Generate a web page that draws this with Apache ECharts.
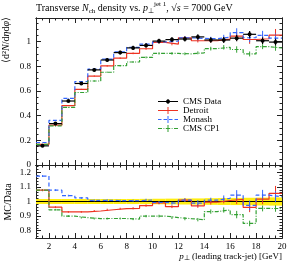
<!DOCTYPE html>
<html><head><meta charset="utf-8">
<script src="https://cdn.jsdelivr.net/npm/echarts@6/dist/echarts.min.js"></script>
<style>html,body{margin:0;padding:0;background:#fff}#c{width:291px;height:263px}</style>
</head><body><div id="c"></div><script>
// ---- data ----
const binEdges = [1,2,3,4,5,6,7,8,9,10,11,12,13,14,15,16,17,18,19,20];
const cmsData = [0.155,0.335,0.518,0.66,0.77,0.85,0.91,0.948,0.968,1.003,1.015,1.02,1.037,1.012,1.012,1.027,1.058,1.006,0.995];
const cmsErr  = [0.0026,0.0057,0.0088,0.0112,0.0131,0.0145,0.0155,0.0165,0.0175,0.019,0.02,0.021,0.022,0.023,0.024,0.025,0.027,0.027,0.028];
const detroit = [0.167,0.322,0.481,0.613,0.720,0.802,0.865,0.904,0.941,0.993,0.979,1.030,1.006,1.007,1.019,1.043,1.016,1.022,1.051];
const detroitErr = [0.001,0.002,0.003,0.004,0.005,0.006,0.006,0.007,0.008,0.009,0.01,0.012,0.014,0.016,0.02,0.034,0.035,0.035,0.05];
const monash = [0.182,0.361,0.539,0.676,0.776,0.857,0.915,0.953,0.978,0.996,1.003,1.030,1.025,1.022,1.034,1.072,1.030,1.050,1.027];
const monashErr = [0.001,0.002,0.003,0.004,0.005,0.006,0.006,0.007,0.008,0.009,0.01,0.012,0.022,0.016,0.02,0.035,0.035,0.036,0.038];
const cp1 = [0.167,0.316,0.466,0.587,0.680,0.751,0.804,0.834,0.871,0.903,0.903,0.900,0.908,0.942,0.953,0.935,0.899,0.958,0.947];
const cp1Err = [0.001,0.002,0.003,0.004,0.005,0.005,0.006,0.007,0.008,0.009,0.01,0.011,0.012,0.015,0.018,0.026,0.02,0.02,0.022];
const xTickLabels = [2,4,6,8,10,12,14,16,18,20];
const yMainTicks = [0,0.2,0.4,0.6,0.8,1];
const yRatioTicks = [0.8,0.9,1,1.1,1.2];
const seriesNames = ['CMS Data','Detroit','Monash','CMS CP1'];

// ---- styling ----
const FONT = 'Liberation Serif';
const RED = '#ee3322', BLUE = '#3366ff', GREEN = '#33a033', YELLOW = '#ffee11', FRAME = '#222';

function minorList(start, end, step, skipEvery){
  const out=[];
  const n=Math.round((end-start)/step);
  for(let i=1;i<n;i++){ if(i%skipEvery!==0) out.push(+(start+i*step).toFixed(4)); }
  return out;
}
const xMinor = minorList(0,20,0.5,4).filter(v=>v>1);
const yMainMinor = minorList(0,1.2,0.05,4).filter(v=>v<1.19);
const yRatioMinor = minorList(0.7,1.3,0.02,5).filter(v=>v>0.75&&v<1.25);

function histLine(vals){ return binEdges.map((e,i)=>[e, vals[Math.min(i, vals.length-1)]]); }
function errItems(vals, errs){ return vals.map((v,i)=>[(binEdges[i]+binEdges[i+1])/2, v, errs[i]]); }
const ratioOf = vals => vals.map((v,i)=>v/cmsData[i]);
const ratioErr = errs => errs.map((e,i)=>e/cmsData[i]);

function renderErr(color){
  return function(params, api){
    const x=api.value(0), y=api.value(1), e=api.value(2);
    const a=api.coord([x,y-e]), b=api.coord([x,y+e]);
    return {type:'line', shape:{x1:a[0],y1:a[1],x2:b[0],y2:b[1]}, style:{stroke:color, lineWidth:1}};
  };
}
function renderData(params, api){
  const lo=api.value(0), hi=api.value(1), y=api.value(2), e=api.value(3), m=(lo+hi)/2;
  const pL=api.coord([lo,y]), pR=api.coord([hi,y]), t=api.coord([m,y+e]), b=api.coord([m,y-e]), c=api.coord([m,y]);
  return {type:'group', children:[
    {type:'line', shape:{x1:pL[0],y1:pL[1],x2:pR[0],y2:pR[1]}, style:{stroke:'#000', lineWidth:1.2}},
    {type:'line', shape:{x1:c[0],y1:t[1],x2:c[0],y2:b[1]}, style:{stroke:'#000', lineWidth:1.2}},
    {type:'circle', shape:{cx:c[0],cy:c[1],r:2}, style:{fill:'#000'}}
  ]};
}
function renderBand(params, api){
  const lo=api.value(0), hi=api.value(1), d=api.value(2);
  const a=api.coord([lo,1+d]), b=api.coord([hi,1-d]);
  return {type:'rect', shape:{x:a[0], y:a[1], width:b[0]-a[0], height:b[1]-a[1]}, style:{fill:YELLOW}};
}

function xAx(grid, pos, ticks, len, labels){
  return {type:'value', gridIndex:grid, position:pos, min:1, max:20,
    axisLine:{show:true, onZero:false, lineStyle:{color:FRAME, width:1}},
    axisTick:{show:true, inside:true, length:len, customValues:ticks, lineStyle:{color:FRAME, width:1}},
    axisLabel:{show:!!labels, customValues:labels||undefined, margin:4, fontFamily:FONT, fontSize:9, color:'#000'},
    splitLine:{show:false}};
}
function yAx(grid, pos, min, max, ticks, len, labels){
  return {type:'value', gridIndex:grid, position:pos, min:min, max:max,
    axisLine:{show:true, onZero:false, lineStyle:{color:FRAME, width:1}},
    axisTick:{show:true, inside:true, length:len, customValues:ticks, lineStyle:{color:FRAME, width:1}},
    axisLabel:{show:!!labels, customValues:labels||undefined, margin:5, fontFamily:FONT, fontSize:9, color:'#000'},
    splitLine:{show:false}};
}

const YMAX = 1.19, RMIN = 0.75, RMAX = 1.25;
const xAxes = [
  xAx(0,'bottom',xTickLabels,5,null), xAx(0,'top',xTickLabels,5,null),
  xAx(0,'bottom',xMinor,2.5,null), xAx(0,'top',xMinor,2.5,null),
  xAx(1,'bottom',xTickLabels,5,xTickLabels), xAx(1,'top',xTickLabels,5,null),
  xAx(1,'bottom',xMinor,2.5,null), xAx(1,'top',xMinor,2.5,null)
];
const yAxes = [
  yAx(0,'left',0,YMAX,yMainTicks,5,yMainTicks), yAx(0,'right',0,YMAX,yMainTicks,5,null),
  yAx(0,'left',0,YMAX,yMainMinor,2.5,null), yAx(0,'right',0,YMAX,yMainMinor,2.5,null),
  yAx(1,'left',RMIN,RMAX,yRatioTicks,5,yRatioTicks), yAx(1,'right',RMIN,RMAX,yRatioTicks,5,null),
  yAx(1,'left',RMIN,RMAX,yRatioMinor,2.5,null), yAx(1,'right',RMIN,RMAX,yRatioMinor,2.5,null)
];

const mcs = [
  {name:'Detroit', vals:detroit, errs:detroitErr, color:RED, type:'solid'},
  {name:'Monash', vals:monash, errs:monashErr, color:BLUE, type:[4,2.5]},
  {name:'CMS CP1', vals:cp1, errs:cp1Err, color:GREEN, type:[4,1.5,1,1.5]}
];

const series = [];
// main-plot data first so the legend takes its colour
series.push({type:'custom', name:'CMS Data', xAxisIndex:0, yAxisIndex:0, z:5, renderItem:renderData,
  color:'#000', itemStyle:{color:'#000'}, encode:{x:[0,1], y:2},
  data: cmsData.map((v,i)=>[binEdges[i], binEdges[i+1], v, cmsErr[i]])});
series.push({type:'custom', name:'CMS Data', xAxisIndex:4, yAxisIndex:4, z:1, clip:true, silent:true,
  color:'#000', itemStyle:{color:'#000'}, renderItem:renderBand, encode:{x:[0,1], y:2},
  data: cmsData.map((v,i)=>[binEdges[i], binEdges[i+1], cmsErr[i]/v])});
series.push({type:'line', name:'CMS Data', xAxisIndex:4, yAxisIndex:4, step:'end', symbol:'none', z:2,
  color:'#000', lineStyle:{color:'#000', width:1.2}, data:histLine(ratioOf(cmsData))});
mcs.forEach(m=>{
  series.push({type:'line', name:m.name, xAxisIndex:0, yAxisIndex:0, step:'end', symbol:'none', z:3,
    color:m.color, itemStyle:{color:m.color}, lineStyle:{color:m.color, width:1.2, type:m.type}, data:histLine(m.vals)});
  series.push({type:'custom', name:m.name, xAxisIndex:0, yAxisIndex:0, z:3, renderItem:renderErr(m.color),
    color:m.color, itemStyle:{color:m.color}, encode:{x:0, y:1}, data:errItems(m.vals, m.errs)});
  series.push({type:'line', name:m.name, xAxisIndex:4, yAxisIndex:4, step:'end', symbol:'none', z:3,
    color:m.color, lineStyle:{color:m.color, width:1.2, type:m.type}, data:histLine(ratioOf(m.vals))});
  series.push({type:'custom', name:m.name, xAxisIndex:4, yAxisIndex:4, z:3, clip:true, renderItem:renderErr(m.color),
    color:m.color, itemStyle:{color:m.color}, encode:{x:0, y:1}, data:errItems(ratioOf(m.vals), ratioErr(m.errs))});
});

const ICON_DATA = 'path://M0,3H20V4H0Z M9.5,1H10.5V6H9.5Z M12,3.5A2,2,0,1,1,8,3.5A2,2,0,1,1,12,3.5Z M0,0M20,7';
const ICON_SOLID = 'path://M0,3H20V4H0Z M9.5,0H10.5V7H9.5Z';
const ICON_DASH = 'path://M0,3H3.5V4H0Z M5.5,3H9V4H5.5Z M9.5,0H10.5V7H9.5Z M11,3H14.5V4H11Z M16.5,3H20V4H16.5Z';
const ICON_DASHDOT = 'path://M0,3H4V4H0Z M5.5,3H6.3V4H5.5Z M7.8,3H12.2V4H7.8Z M9.5,0H10.5V7H9.5Z M13.7,3H14.5V4H13.7Z M16,3H20V4H16Z';

const option = {
  animation:false,
  backgroundColor:'#fff',
  title:{text:'Transverse {i|N}{sub|ch} density vs. {i|p}{sub|⊥}{sup|jet 1}, √{i|s} = 7000 GeV', left:36, top:1, padding:0,
    textStyle:{fontFamily:FONT, fontSize:10, fontWeight:'normal', color:'#000', lineHeight:14,
      rich:{
        i:{fontFamily:FONT, fontSize:10, fontStyle:'italic', color:'#000', lineHeight:14},
        sub:{fontFamily:FONT, fontSize:7, color:'#000', lineHeight:7, verticalAlign:'bottom'},
        sup:{fontFamily:FONT, fontSize:7, color:'#000', lineHeight:7, verticalAlign:'top'}
      }}},
  legend:{left:158, top:97, orient:'vertical', itemWidth:20, itemHeight:7, itemGap:0, selectedMode:false,
    padding:0, itemStyle:{borderWidth:0},
    textStyle:{fontFamily:FONT, fontSize:9, color:'#000'},
    data:[{name:seriesNames[0], icon:ICON_DATA, itemStyle:{color:'#000'}},{name:seriesNames[1], icon:ICON_SOLID},
          {name:seriesNames[2], icon:ICON_DASH},{name:seriesNames[3], icon:ICON_DASHDOT}]},
  grid:[{left:36, top:18, width:246, height:147}, {left:36, top:165, width:246, height:73}],
  xAxis:xAxes, yAxis:yAxes, series:series,
  graphic:[
    {type:'text', x:6, y:17, rotation:Math.PI/2, silent:true,
      style:{text:'⟨d²{i|N}/d{i|η}d{i|φ}⟩', fontFamily:FONT, fontSize:10, fill:'#000', align:'right', verticalAlign:'middle',
        rich:{i:{fontFamily:FONT, fontSize:10, fontStyle:'italic', fill:'#000'}}}},
    {type:'text', x:8, y:202, rotation:Math.PI/2, silent:true,
      style:{text:'MC/Data', fontFamily:FONT, fontSize:10, fill:'#000', align:'center', verticalAlign:'middle'}},
    {type:'text', x:282, y:257, silent:true,
      style:{text:'{i|p}{s|⊥} (leading track-jet) [GeV]', fontFamily:FONT, fontSize:9, fill:'#000', align:'right', verticalAlign:'middle',
        rich:{i:{fontFamily:FONT, fontSize:9, fontStyle:'italic', fill:'#000'}, s:{fontFamily:FONT, fontSize:6.5, fill:'#000', verticalAlign:'bottom', lineHeight:6}}}}
  ]
};
const chart = echarts.init(document.getElementById('c'), null, {renderer:'canvas'});
chart.setOption(option);
</script></body></html>
